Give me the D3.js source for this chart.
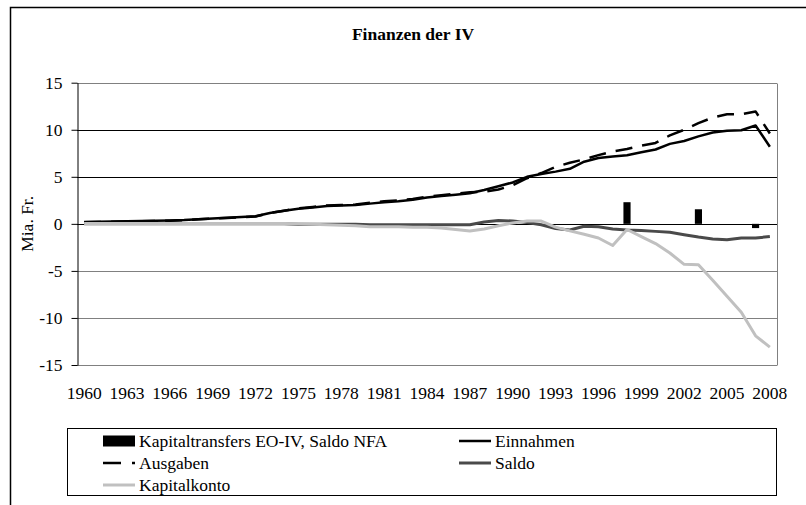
<!DOCTYPE html>
<html>
<head>
<meta charset="utf-8">
<script src="https://cdn.jsdelivr.net/npm/d3@7"></script>
<style>
  html, body { margin: 0; padding: 0; background: #fff; }
  svg { display: block; }
  text { font-family: "Liberation Serif", "Times New Roman", serif; fill: #000; }
</style>
</head>
<body>
<svg id="chart" width="806" height="505"></svg>
<script>
const years = d3.range(1960, 2009);
const tickYears = d3.range(1960, 2009, 3);
const yTicks = [-15, -10, -5, 0, 5, 10, 15];

const einnahmen = [
  0.2, 0.22, 0.25, 0.28, 0.3, 0.33, 0.35, 0.4, 0.5, 0.58,
  0.65, 0.72, 0.8, 1.15, 1.4, 1.6, 1.75, 1.9, 1.95, 2.0,
  2.15, 2.3, 2.4, 2.55, 2.8, 2.95, 3.1, 3.25, 3.6, 4.0,
  4.4, 5.0, 5.3, 5.55, 5.85, 6.6, 7.0, 7.15, 7.3, 7.6,
  7.9, 8.5, 8.8, 9.3, 9.7, 9.9, 9.95, 10.45, 8.2
];
const ausgaben = [
  0.18, 0.2, 0.23, 0.26, 0.28, 0.31, 0.33, 0.38, 0.48, 0.56,
  0.63, 0.7, 0.78, 1.15, 1.4, 1.65, 1.8, 1.95, 2.0, 2.05,
  2.25, 2.4, 2.5, 2.65, 2.9, 3.05, 3.2, 3.35, 3.4, 3.65,
  4.1, 4.85, 5.4, 6.05, 6.5, 6.85, 7.3, 7.7, 7.95, 8.3,
  8.6, 9.4, 10.0, 10.7, 11.3, 11.65, 11.65, 11.95, 9.6
];
const saldo = [
  0.02, 0.02, 0.02, 0.02, 0.02, 0.02, 0.02, 0.02, 0.02, 0.02,
  0.02, 0.02, 0.02, 0.0, 0.0, -0.05, -0.05, -0.05, -0.05, -0.05,
  -0.1, -0.1, -0.1, -0.1, -0.1, -0.1, -0.1, -0.1, 0.2, 0.35,
  0.3, 0.15, -0.1, -0.5, -0.65, -0.25, -0.3, -0.55, -0.65, -0.7,
  -0.8, -0.9, -1.15, -1.4, -1.6, -1.7, -1.5, -1.5, -1.35
];
const kapitalkonto = [
  0.05, 0.05, 0.05, 0.05, 0.05, 0.05, 0.05, 0.05, 0.05, 0.05,
  0.05, 0.05, 0.05, 0.05, 0.05, 0.0, -0.05, -0.1, -0.15, -0.2,
  -0.3, -0.3, -0.3, -0.35, -0.35, -0.45, -0.6, -0.75, -0.55, -0.2,
  0.1, 0.3, 0.3, -0.35, -0.75, -1.1, -1.5, -2.3, -0.6, -1.35,
  -2.1, -3.1, -4.3, -4.35, -6.0, -7.7, -9.4, -11.9, -13.1
];
const transferYears = [1998, 2003, 2007];
const transferValues = [2.3, 1.55, -0.45];

const seriesNames = ["Kapitaltransfers EO-IV, Saldo NFA", "Einnahmen", "Ausgaben", "Saldo", "Kapitalkonto"];

const FS = "17.5px";
const svg = d3.select("#chart");

// outer chart frame (cut off at right and bottom)
svg.append("rect")
  .attr("x", 10.5).attr("y", 7.5)
  .attr("width", 900).attr("height", 600)
  .attr("fill", "none").attr("stroke", "#000").attr("stroke-width", 1.5);

const L = 77, R = 777, T = 82.7, B = 365;

const x = d3.scaleBand().domain(years).range([L, R]).paddingInner(0.5).paddingOuter(0.25);
const xc = d => x(d) + x.bandwidth() / 2;
const y = d3.scaleLinear().domain([-15, 15]).range([B, T]);

// title
svg.append("text")
  .attr("x", 413).attr("y", 40)
  .attr("text-anchor", "middle")
  .style("font-size", FS).style("font-weight", "bold")
  .text("Finanzen der IV");

// gridlines
svg.append("g").selectAll("line").data(yTicks).join("line")
  .attr("x1", L).attr("x2", R)
  .attr("y1", d => Math.round(y(d)) + 0.5).attr("y2", d => Math.round(y(d)) + 0.5)
  .attr("stroke", d => (d >= 0 && d < 15) ? "#000" : "#808080")
  .attr("stroke-width", 1);

// right plot border
svg.append("line")
  .attr("x1", R + 0.5).attr("x2", R + 0.5)
  .attr("y1", Math.round(y(15)) + 0.5).attr("y2", Math.round(y(-15)) + 0.5)
  .attr("stroke", "#808080");

// y axis
const yAxis = d3.axisLeft(y).tickValues(yTicks).tickFormat(d => String(d))
  .tickSize(6).tickPadding(9).tickSizeOuter(0);
const gy = svg.append("g").attr("transform", `translate(${L + 0.5},0)`).call(yAxis);
gy.select(".domain").attr("stroke", "#000");
gy.selectAll(".tick line").attr("stroke", "#000");
gy.selectAll(".tick text").style("font-size", FS).style("font-family", "Liberation Serif, serif");

// y label
svg.append("text")
  .attr("transform", `translate(33,${(T + B) / 2}) rotate(-90)`)
  .attr("text-anchor", "middle")
  .style("font-size", FS)
  .text("Mia. Fr.");

// x labels
const xAxis = d3.axisBottom(x).tickValues(tickYears).tickSize(0).tickPadding(0);
const gx = svg.append("g").attr("transform", `translate(0,${B + 22})`).call(xAxis);
gx.select(".domain").remove();
gx.selectAll(".tick text").style("font-size", FS).style("font-family", "Liberation Serif, serif");

// bars
svg.append("g").selectAll("rect").data(transferYears.map((yr, i) => ({ yr, v: transferValues[i] }))).join("rect")
  .attr("x", d => x(d.yr))
  .attr("width", x.bandwidth())
  .attr("y", d => y(Math.max(0, d.v)))
  .attr("height", d => Math.abs(y(d.v) - y(0)))
  .attr("fill", "#000");

const line = d3.line().x((d, i) => xc(years[i])).y(d => y(d));

const styles = [
  { data: einnahmen, stroke: "#000", width: 2.5, dash: null },
  { data: ausgaben, stroke: "#000", width: 2.5, dash: "17,10" },
  { data: saldo, stroke: "#4a4a4a", width: 3, dash: null },
  { data: kapitalkonto, stroke: "#c0c0c0", width: 3, dash: null }
];
styles.forEach(s => {
  svg.append("path").datum(s.data)
    .attr("d", line)
    .attr("fill", "none")
    .attr("stroke", s.stroke)
    .attr("stroke-width", s.width)
    .attr("stroke-linejoin", "round")
    .attr("stroke-dasharray", s.dash);
});

// legend
svg.append("rect")
  .attr("x", 67.5).attr("y", 428.5).attr("width", 709).attr("height", 67)
  .attr("fill", "none").attr("stroke", "#000");

const lg = svg.append("g");
const items = [
  { name: seriesNames[0], x: 103, y: 441, type: "bar" },
  { name: seriesNames[1], x: 459, y: 441, type: "line", s: styles[0] },
  { name: seriesNames[2], x: 103, y: 463, type: "line", s: { stroke: "#000", width: 2.5, dash: "18,11" } },
  { name: seriesNames[3], x: 459, y: 463, type: "line", s: styles[2] },
  { name: seriesNames[4], x: 103, y: 485, type: "line", s: styles[3] }
];
items.forEach(it => {
  if (it.type === "bar") {
    lg.append("rect").attr("x", it.x).attr("y", it.y - 5.5).attr("width", 32).attr("height", 11).attr("fill", "#000");
  } else {
    lg.append("line").attr("x1", it.x).attr("x2", it.x + 32).attr("y1", it.y).attr("y2", it.y)
      .attr("stroke", it.s.stroke).attr("stroke-width", it.s.width).attr("stroke-dasharray", it.s.dash);
  }
  lg.append("text").attr("x", it.x + 36).attr("y", it.y + 6)
    .style("font-size", FS).text(it.name);
});
</script>
</body>
</html>
